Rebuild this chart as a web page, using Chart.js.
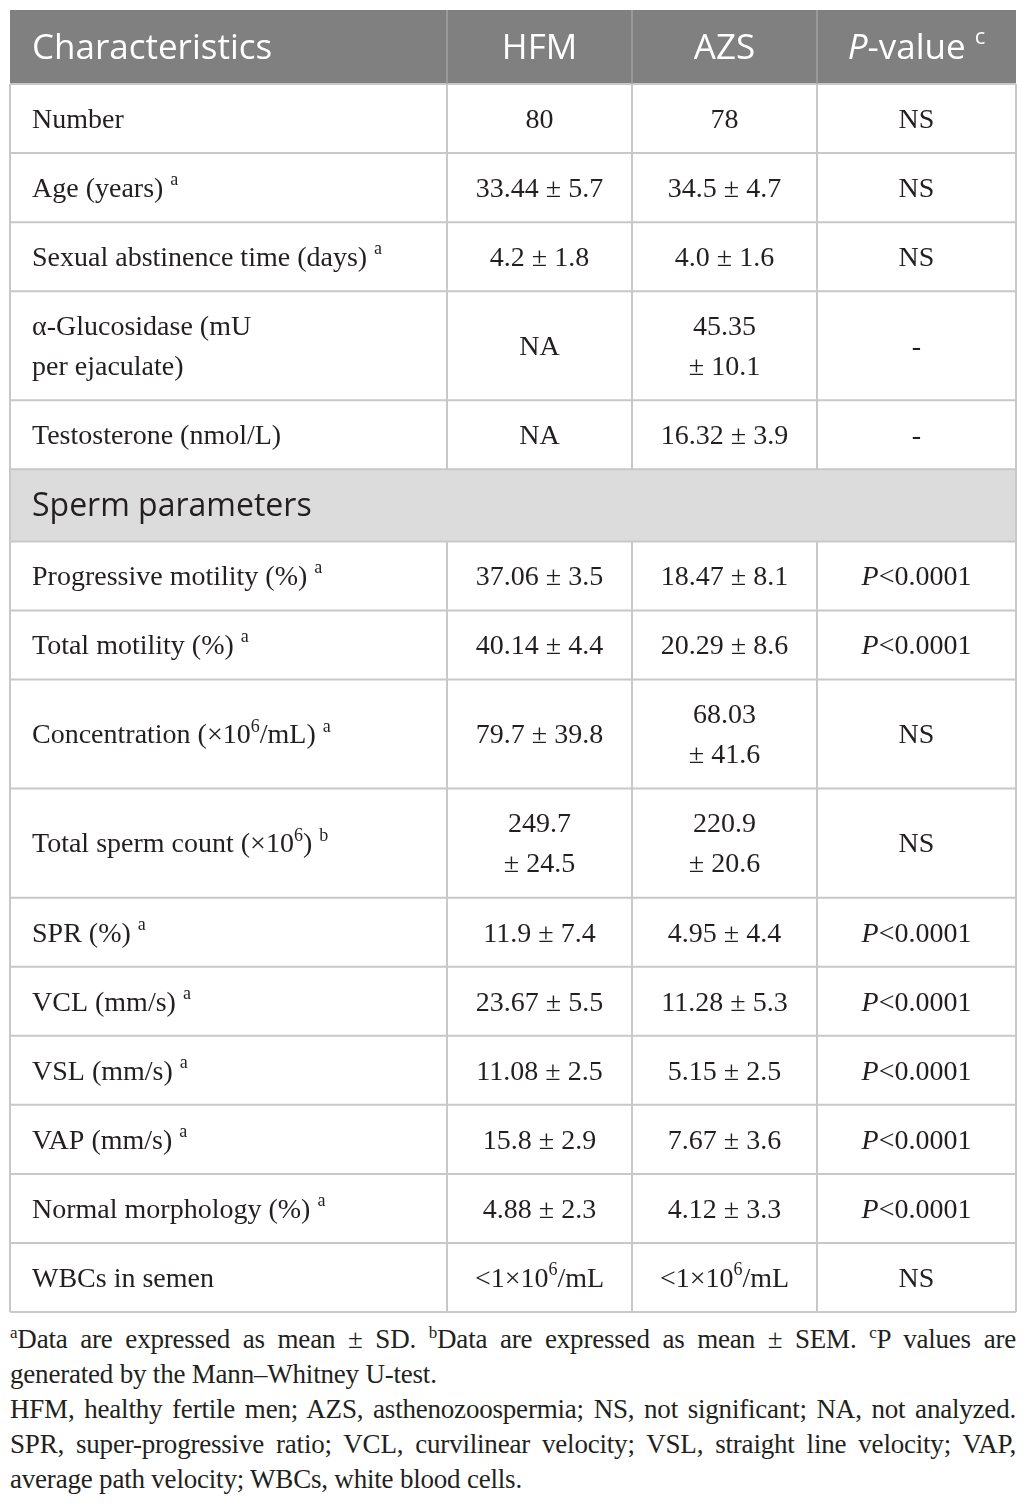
<!DOCTYPE html>
<html>
<head>
<meta charset="utf-8">
<script src="https://cdn.jsdelivr.net/npm/chart.js@4.4.1/dist/chart.umd.min.js"></script>
<style>
  body { margin: 0; background: #fff; width: 1026px; height: 1506px; position: relative; overflow: hidden; }
  #wrap { position: absolute; left: 8px; top: 8px; width: 1010px; height: 1306px; }
  #notes { position: absolute; left: 10px; top: 1322px; width: 1006px; font-family: "Liberation Serif", serif;
           font-size: 27px; line-height: 35px; color: #231f20; letter-spacing: -0.2px; }
  #notes div { text-align: justify; white-space: nowrap; }
  #notes .full { text-align-last: justify; }
  #notes sup { font-size: 17px; line-height: 0; }
</style>
</head>
<body>
<div id="wrap"><canvas id="tbl"></canvas></div>
<div id="notes">
  <div class="full"><sup>a</sup>Data are expressed as mean ± SD. <sup>b</sup>Data are expressed as mean ± SEM. <sup>c</sup>P values are</div>
  <div>generated by the Mann–Whitney U-test.</div>
  <div class="full">HFM, healthy fertile men; AZS, asthenozoospermia; NS, not significant; NA, not analyzed.</div>
  <div class="full">SPR, super-progressive ratio; VCL, curvilinear velocity; VSL, straight line velocity; VAP,</div>
  <div>average path velocity; WBCs, white blood cells.</div>
</div>
<script>
// ^{..} = superscript, ~{..} = italic, \n = line break
const headers = ["Characteristics", "HFM", "AZS", "~{P}-value ^{c}"];

const labels = [
  "Number",
  "Age (years) ^{a}",
  "Sexual abstinence time (days) ^{a}",
  "α-Glucosidase (mU\nper ejaculate)",
  "Testosterone (nmol/L)",
  "Sperm parameters",
  "Progressive motility (%) ^{a}",
  "Total motility (%) ^{a}",
  "Concentration (×10^{6}/mL) ^{a}",
  "Total sperm count (×10^{6}) ^{b}",
  "SPR (%) ^{a}",
  "VCL (mm/s) ^{a}",
  "VSL (mm/s) ^{a}",
  "VAP (mm/s) ^{a}",
  "Normal morphology (%) ^{a}",
  "WBCs in semen"
];

const hfm = ["80", "33.44 ± 5.7", "4.2 ± 1.8", "NA", "NA", null,
  "37.06 ± 3.5", "40.14 ± 4.4", "79.7 ± 39.8", "249.7\n± 24.5", "11.9 ± 7.4",
  "23.67 ± 5.5", "11.08 ± 2.5", "15.8 ± 2.9", "4.88 ± 2.3", "<1×10^{6}/mL"];

const azs = ["78", "34.5 ± 4.7", "4.0 ± 1.6", "45.35\n± 10.1", "16.32 ± 3.9", null,
  "18.47 ± 8.1", "20.29 ± 8.6", "68.03\n± 41.6", "220.9\n± 20.6", "4.95 ± 4.4",
  "11.28 ± 5.3", "5.15 ± 2.5", "7.67 ± 3.6", "4.12 ± 3.3", "<1×10^{6}/mL"];

const pValues = ["NS", "NS", "NS", "-", "-", null,
  "~{P}<0.0001", "~{P}<0.0001", "NS", "NS", "~{P}<0.0001",
  "~{P}<0.0001", "~{P}<0.0001", "~{P}<0.0001", "~{P}<0.0001", "NS"];

// layout / style
const colW = [437, 185, 185, 199];
const lineH = 40, padH = 29, headH = 74, secH = 72;
const serif = '"Liberation Serif", serif';
const sans = '"Open Sans", "Noto Sans", sans-serif';
const bodySize = 28, headSize = 35, secSize = 32;

const tableW = colW.reduce((a, b) => a + b, 0);
const nLines = s => s == null ? 0 : s.split("\n").length;

// row bands built from how many text lines each row holds
let rows = [];
let yy = headH;
labels.forEach((l, i) => {
  let isSection = hfm[i] === null;
  let h = isSection ? secH : padH + lineH * Math.max(nLines(l), nLines(hfm[i]), nLines(azs[i]), nLines(pValues[i]));
  rows.push({ top: yy, bottom: yy + h, section: isSection });
  yy += h;
});
const totalH = yy;

function parts(str) {
  return str.split(/(\^\{[^}]*\}|~\{[^}]*\})/).filter(s => s !== '').map(s => {
    if (s.startsWith('^{')) return { t: s.slice(2, -1), kind: 'sup' };
    if (s.startsWith('~{')) return { t: s.slice(2, -1), kind: 'it' };
    return { t: s, kind: 'n' };
  });
}
function fontFor(kind, size, fam) {
  if (kind === 'sup') return Math.round(size * 0.64) + 'px ' + fam;
  if (kind === 'it') return 'italic ' + size + 'px ' + fam;
  return size + 'px ' + fam;
}
function drawRich(ctx, str, x, y, align, size, fam, color) {
  let ps = parts(str), w = 0;
  ps.forEach(p => { ctx.font = fontFor(p.kind, size, fam); p.w = ctx.measureText(p.t).width; w += p.w; });
  let cx = align === 'center' ? x - w / 2 : x;
  ctx.fillStyle = color;
  ctx.textAlign = 'left';
  ctx.textBaseline = 'middle';
  ps.forEach(p => {
    ctx.font = fontFor(p.kind, size, fam);
    ctx.fillText(p.t, cx, p.kind === 'sup' ? y - size * 0.33 : y);
    cx += p.w;
  });
}
function drawCell(ctx, str, x, yMid, align, size, fam, color) {
  let ls = str.split("\n");
  ls.forEach((l, k) => drawRich(ctx, l, x, yMid + (k - (ls.length - 1) / 2) * lineH, align, size, fam, color));
}

const tablePlugin = {
  id: 'tablePlugin',
  afterDraw(chart) {
    const ctx = chart.ctx, xs = chart.scales.x, ys = chart.scales.y;
    const X = v => xs.getPixelForValue(v), Y = v => ys.getPixelForValue(v);
    let edges = [0];
    colW.forEach(w => edges.push(edges[edges.length - 1] + w));
    ctx.save();

    // header band
    ctx.fillStyle = '#808080';
    ctx.fillRect(X(0), Y(0), X(tableW) - X(0), Y(headH) - Y(0));
    // section band
    rows.forEach(r => {
      if (!r.section) return;
      ctx.fillStyle = '#dcdcdc';
      ctx.fillRect(X(0), Y(r.top), X(tableW) - X(0), Y(r.bottom) - Y(r.top));
    });

    // grid
    ctx.strokeStyle = '#c8c8c8';
    ctx.lineWidth = 2;
    ctx.beginPath();
    rows.forEach(r => {
      ctx.moveTo(X(0), Y(r.top)); ctx.lineTo(X(tableW), Y(r.top));
      if (!r.section) {
        for (let c = 1; c < edges.length - 1; c++) {
          ctx.moveTo(X(edges[c]), Y(r.top)); ctx.lineTo(X(edges[c]), Y(r.bottom));
        }
      }
    });
    ctx.moveTo(X(0), Y(totalH)); ctx.lineTo(X(tableW), Y(totalH));
    ctx.moveTo(X(0), Y(headH)); ctx.lineTo(X(0), Y(totalH));
    ctx.moveTo(X(tableW), Y(headH)); ctx.lineTo(X(tableW), Y(totalH));
    ctx.stroke();
    ctx.strokeStyle = '#a2a2a2';
    ctx.lineWidth = 1.5;
    ctx.beginPath();
    for (let c = 1; c < edges.length - 1; c++) {
      ctx.moveTo(X(edges[c]), Y(0)); ctx.lineTo(X(edges[c]), Y(headH));
    }
    ctx.stroke();

    // header text
    const padL = 22;
    headers.forEach((h, c) => {
      let mid = Y(headH / 2) + 2;
      if (c === 0) drawCell(ctx, h, X(edges[0]) + padL, mid, 'left', headSize, sans, '#ffffff');
      else drawCell(ctx, h, X((edges[c] + edges[c + 1]) / 2), mid, 'center', headSize, sans, '#ffffff');
    });

    // body text
    rows.forEach((r, i) => {
      let mid = Y((r.top + r.bottom) / 2) + 2;
      if (r.section) {
        drawCell(ctx, labels[i], X(0) + padL, mid, 'left', secSize, sans, '#231f20');
        return;
      }
      drawCell(ctx, labels[i], X(0) + padL, mid, 'left', bodySize, serif, '#231f20');
      [hfm[i], azs[i], pValues[i]].forEach((v, k) => {
        let c = k + 1;
        drawCell(ctx, v, X((edges[c] + edges[c + 1]) / 2), mid, 'center', bodySize, serif, '#231f20');
      });
    });
    ctx.restore();
  }
};

new Chart(document.getElementById('tbl'), {
  type: 'scatter',
  data: { datasets: [] },
  options: {
    responsive: true,
    maintainAspectRatio: false,
    animation: false,
    events: [],
    layout: { padding: 2 },
    plugins: { legend: { display: false }, tooltip: { enabled: false } },
    scales: {
      x: { type: 'linear', min: 0, max: tableW, display: false },
      y: { type: 'linear', min: 0, max: totalH, reverse: true, display: false }
    }
  },
  plugins: [tablePlugin]
});
</script>
</body>
</html>
